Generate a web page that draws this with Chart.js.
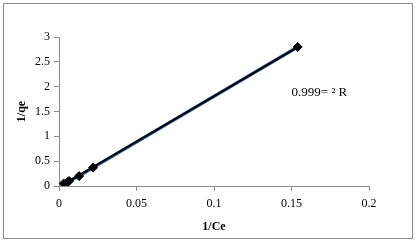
<!DOCTYPE html>
<html><head><meta charset="utf-8">
<script src="https://cdn.jsdelivr.net/npm/chart.js@4/dist/chart.umd.min.js"></script>
<style>
html,body{margin:0;padding:0;background:#fff;}
#wrap{position:absolute;left:0;top:0;width:416px;height:242px;}
#frame{position:absolute;left:3px;top:3px;width:408px;height:234px;border:1px solid #8c8c8c;pointer-events:none;}
canvas{position:absolute;left:0;top:0;}
</style></head>
<body>
<div id="wrap"><canvas id="c" width="416" height="242"></canvas><div id="frame"></div></div>
<script>
const invCe = [0.003, 0.0055, 0.0065, 0.013, 0.022, 0.154];
const invQe = [0.05, 0.08, 0.10, 0.20, 0.37, 2.80];
const xTicks = [0, 0.05, 0.1, 0.15, 0.2];
const yTicks = [0, 0.5, 1, 1.5, 2, 2.5, 3];
const r2Label = "0.999= ² R";
const r2Pos = {x: 0.168, y: 1.89};

// least-squares trendline from the data
const n = invCe.length;
const mx = invCe.reduce((a,b)=>a+b,0)/n, my = invQe.reduce((a,b)=>a+b,0)/n;
let sxy=0, sxx=0;
for(let i=0;i<n;i++){sxy+=(invCe[i]-mx)*(invQe[i]-my);sxx+=(invCe[i]-mx)**2;}
const slope=sxy/sxx, icpt=my-slope*mx;
const xmin=Math.min(...invCe), xmax=Math.max(...invCe);
const trend=[{x:xmin,y:slope*xmin+icpt},{x:xmax,y:slope*xmax+icpt}];
const pts=invCe.map((x,i)=>({x:x,y:invQe[i]}));

const FONT='"Liberation Serif","Times New Roman",serif';
const annot={id:'annot',afterDatasetsDraw(ch){
  const c=ch.ctx,xs=ch.scales.x,ys=ch.scales.y;
  c.save();c.font='13px '+FONT;c.fillStyle='#000';c.textAlign='center';c.textBaseline='middle';
  c.fillText(r2Label,xs.getPixelForValue(r2Pos.x),ys.getPixelForValue(r2Pos.y));c.restore();}};

new Chart(document.getElementById('c'),{
  type:'scatter',
  data:{datasets:[
    {data:pts,showLine:true,borderColor:'#3d6fa5',borderWidth:3.5,pointRadius:0,order:3},
    {data:trend,showLine:true,borderColor:'#000',borderWidth:2,pointRadius:0,order:2},
    {data:pts,showLine:false,pointStyle:'rectRot',pointRadius:4.5,backgroundColor:'#000',borderColor:'#000',order:1}
  ]},
  options:{
    responsive:false,animation:false,
    layout:{padding:{top:37,right:47,left:15,bottom:8}},
    plugins:{legend:{display:false},tooltip:{enabled:false}},
    scales:{
      x:{type:'linear',min:0,max:0.2,
        afterBuildTicks(s){s.ticks=xTicks.map(v=>({value:v}));},
        afterFit(s){s.height=48;},
        border:{color:'#8c8c8c'},
        grid:{drawOnChartArea:false,drawTicks:true,tickLength:5,color:'#8c8c8c'},
        ticks:{font:{family:FONT,size:12},color:'#000',padding:6,maxRotation:0,callback:v=>String(Number(v.toFixed(2)))},
        title:{display:true,text:'1/Ce',font:{family:FONT,size:12,weight:'bold'},color:'#000',padding:{top:2,bottom:0}}
      },
      y:{type:'linear',min:0,max:3,
        afterBuildTicks(s){s.ticks=yTicks.map(v=>({value:v}));},
        afterFit(s){s.width=44;},
        border:{color:'#8c8c8c'},
        grid:{drawOnChartArea:false,drawTicks:true,tickLength:5,color:'#8c8c8c'},
        ticks:{font:{family:FONT,size:12},color:'#000',padding:4,callback:v=>String(v)},
        title:{display:true,text:'1/qe',font:{family:FONT,size:12,weight:'bold'},color:'#000',padding:{top:0,bottom:6}}
      }
    }
  },
  plugins:[annot]
});
</script>
</body></html>
